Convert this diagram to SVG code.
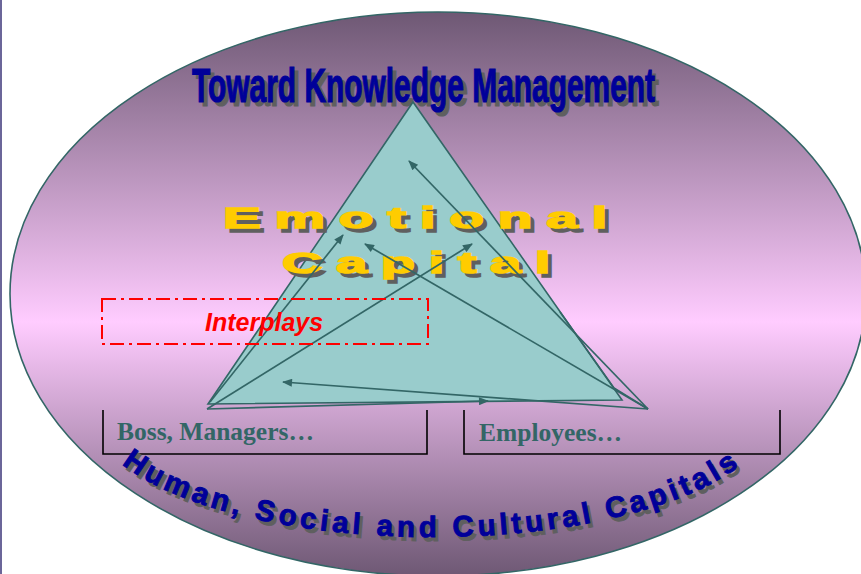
<svg xmlns="http://www.w3.org/2000/svg" width="861" height="574" viewBox="0 0 861 574">
<defs>
<linearGradient id="bg" gradientUnits="userSpaceOnUse" x1="0" y1="12" x2="0" y2="576">
<stop offset="0" stop-color="#6e5874"/>
<stop offset="0.55" stop-color="#ffccff"/>
<stop offset="1" stop-color="#6e5874"/>
</linearGradient>
<marker id="ah" viewBox="0 0 10 8" refX="9" refY="4" markerWidth="12" markerHeight="8" orient="auto" markerUnits="userSpaceOnUse">
<path d="M0,0 L10,4 L0,8 z" fill="#336666"/>
</marker>
<path id="arc" d="M112.5,455.4 A340,124 0 0 0 751.5,455.4"/>
</defs>
<style>
.title{font-family:"Liberation Sans",Arial,sans-serif;font-weight:bold;font-size:48px;stroke-width:1.2px}
.emo{font-family:"Liberation Sans",Arial,sans-serif;font-weight:bold;font-size:29px;stroke-width:1.4px}
.cap{font-family:"Liberation Sans",Arial,sans-serif;font-weight:bold;font-size:29.5px;letter-spacing:4px;stroke-width:0.9px}
.lbl{font-family:"Liberation Serif","Times New Roman",serif;font-weight:bold;font-size:25.5px;fill:#336666}
.edge{fill:none;stroke:#336666;stroke-width:1.6}
.arrow{fill:none;stroke:#336666;stroke-width:1.7;marker-end:url(#ah)}
.box{fill:none;stroke:#000000;stroke-width:1.6}
.sh{fill:#5f5f5f;stroke:#5f5f5f}
.blue{fill:#000099;stroke:#000099}
.yel{fill:#ffcc00;stroke:#ffcc00}
</style>
<rect x="0" y="0" width="861" height="574" fill="#ffffff"/>
<rect x="0" y="0" width="2" height="574" fill="#6b6699"/>
<g id="background">
<ellipse cx="438" cy="294" rx="428" ry="282" fill="url(#bg)" stroke="#336666" stroke-width="1.6"/>
</g>
<g id="title">
<text class="title sh" x="196" y="106" textLength="463" lengthAdjust="spacingAndGlyphs">Toward Knowledge Management</text>
<text class="title blue" x="192" y="102" textLength="463" lengthAdjust="spacingAndGlyphs">Toward Knowledge Management</text>
</g>
<g id="triangle">
<polygon points="413,102 208,404 622,400" fill="#99cccc" stroke="#336666" stroke-width="1.6"/>
<polyline class="edge" points="560,312 614,388 648,409"/>
</g>
<g id="emotional-capital">
<text class="emo sh" x="227" y="232" letter-spacing="7" textLength="398" lengthAdjust="spacingAndGlyphs">Emotional</text>
<text class="emo yel" x="223" y="228" letter-spacing="7" textLength="398" lengthAdjust="spacingAndGlyphs">Emotional</text>
<text class="emo sh" x="286" y="277" letter-spacing="7" textLength="282" lengthAdjust="spacingAndGlyphs">Capital</text>
<text class="emo yel" x="282" y="273" letter-spacing="7" textLength="282" lengthAdjust="spacingAndGlyphs">Capital</text>
</g>
<g id="connectors">
<line class="arrow" x1="648" y1="409" x2="409" y2="161"/>
<line class="arrow" x1="210" y1="402" x2="343" y2="235"/>
<line class="arrow" x1="207" y1="409" x2="472" y2="244"/>
<line class="arrow" x1="648" y1="409" x2="365" y2="244"/>
<line class="arrow" x1="648" y1="409" x2="283" y2="382"/>
<line class="arrow" x1="207" y1="409" x2="488" y2="401"/>
</g>
<g id="interplays">
<rect x="102" y="299" width="326" height="45" fill="none" stroke="#ff0000" stroke-width="2" stroke-dasharray="14 5 3 5"/>
<text x="205" y="331" font-family="Liberation Sans, Arial, sans-serif" font-weight="bold" font-style="italic" font-size="25" fill="#ff0000">Interplays</text>
</g>
<g id="boss">
<path class="box" d="M103,410 V454 H427 V410"/>
<text class="lbl" x="117" y="440">Boss, Managers…</text>
</g>
<g id="employees">
<path class="box" d="M464,410 V454 H780 V410"/>
<text class="lbl" x="479" y="441">Employees…</text>
</g>
<g id="capitals">
<g transform="translate(3,4)">
<text class="cap sh"><textPath href="#arc" startOffset="50%" text-anchor="middle">Human, Social and Cultural Capitals</textPath></text>
</g>
<text class="cap blue"><textPath href="#arc" startOffset="50%" text-anchor="middle">Human, Social and Cultural Capitals</textPath></text>
</g>
</svg>
